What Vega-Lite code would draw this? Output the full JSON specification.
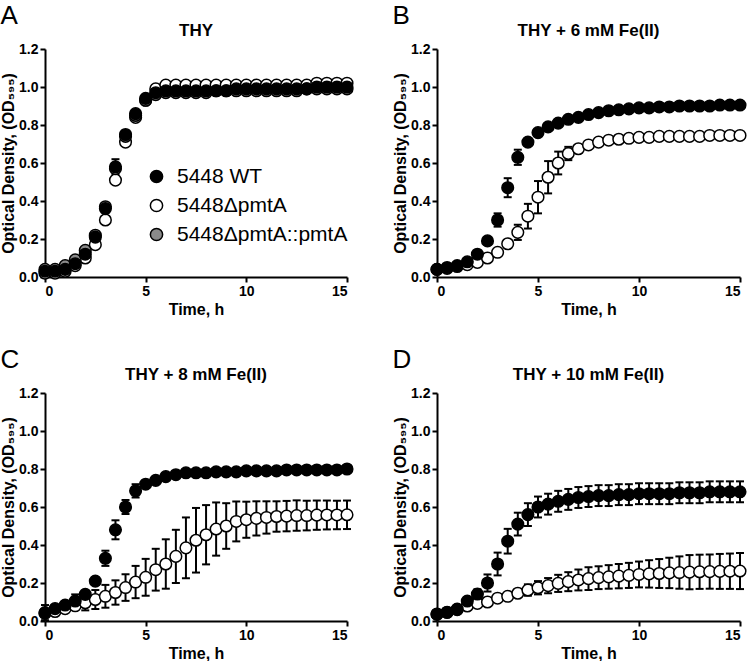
{
"$schema":"https://vega.github.io/schema/vega-lite/v6.json",
"padding":{"left":0,"top":3,"right":0,"bottom":0},
"config":{
 "view":{"stroke":null},
 "font":"Liberation Sans",
 "axis":{"grid":false,"domainColor":"black","domainWidth":2,"tickColor":"black","tickWidth":2,"tickSize":5,"labelFont":"Liberation Sans","labelFontWeight":"bold","labelFontSize":14,"labelColor":"black","titleFont":"Liberation Sans","titleFontWeight":"bold","titleFontSize":16,"titleColor":"black","labelPadding":2},
 "axisX":{"titlePadding":3},
 "axisY":{"titlePadding":2},
 "title":{"font":"Liberation Sans","fontSize":17,"fontWeight":"bold","color":"black"}
},
"datasets":{
"A":[
{"t":0,"s":"D","y":0.02,"e":0.01},{"t":0.5,"s":"D","y":0.02,"e":0.01},{"t":1,"s":"D","y":0.03,"e":0.01},{"t":1.5,"s":"D","y":0.06,"e":0.01},{"t":2,"s":"D","y":0.10,"e":0.01},{"t":2.5,"s":"D","y":0.17,"e":0.01},{"t":3,"s":"D","y":0.30,"e":0.01},{"t":3.5,"s":"D","y":0.51,"e":0.01},{"t":4,"s":"D","y":0.71,"e":0.01},{"t":4.5,"s":"D","y":0.84,"e":0.01},{"t":5,"s":"D","y":0.93,"e":0.01},{"t":5.5,"s":"D","y":0.99,"e":0.01},{"t":6,"s":"D","y":1.01,"e":0.01},{"t":6.5,"s":"D","y":1.01,"e":0.01},{"t":7,"s":"D","y":1.01,"e":0.01},{"t":7.5,"s":"D","y":1.01,"e":0.01},{"t":8,"s":"D","y":1.01,"e":0.01},{"t":8.5,"s":"D","y":1.01,"e":0.01},{"t":9,"s":"D","y":1.01,"e":0.01},{"t":9.5,"s":"D","y":1.01,"e":0.01},{"t":10,"s":"D","y":1.01,"e":0.01},{"t":10.5,"s":"D","y":1.01,"e":0.01},{"t":11,"s":"D","y":1.01,"e":0.01},{"t":11.5,"s":"D","y":1.01,"e":0.01},{"t":12,"s":"D","y":1.01,"e":0.01},{"t":12.5,"s":"D","y":1.01,"e":0.01},{"t":13,"s":"D","y":1.01,"e":0.01},{"t":13.5,"s":"D","y":1.02,"e":0.01},{"t":14,"s":"D","y":1.02,"e":0.01},{"t":14.5,"s":"D","y":1.02,"e":0.01},{"t":15,"s":"D","y":1.02,"e":0.01},
{"t":0,"s":"C","y":0.04,"e":0.01},{"t":0.5,"s":"C","y":0.04,"e":0.01},{"t":1,"s":"C","y":0.06,"e":0.01},{"t":1.5,"s":"C","y":0.09,"e":0.01},{"t":2,"s":"C","y":0.14,"e":0.01},{"t":2.5,"s":"C","y":0.22,"e":0.01},{"t":3,"s":"C","y":0.37,"e":0.01},{"t":3.5,"s":"C","y":0.57,"e":0.01},{"t":4,"s":"C","y":0.74,"e":0.01},{"t":4.5,"s":"C","y":0.85,"e":0.01},{"t":5,"s":"C","y":0.93,"e":0.01},{"t":5.5,"s":"C","y":0.96,"e":0.01},{"t":6,"s":"C","y":0.97,"e":0.01},{"t":6.5,"s":"C","y":0.97,"e":0.01},{"t":7,"s":"C","y":0.97,"e":0.01},{"t":7.5,"s":"C","y":0.97,"e":0.01},{"t":8,"s":"C","y":0.97,"e":0.01},{"t":8.5,"s":"C","y":0.98,"e":0.01},{"t":9,"s":"C","y":0.98,"e":0.01},{"t":9.5,"s":"C","y":0.98,"e":0.01},{"t":10,"s":"C","y":0.98,"e":0.01},{"t":10.5,"s":"C","y":0.98,"e":0.01},{"t":11,"s":"C","y":0.98,"e":0.01},{"t":11.5,"s":"C","y":0.98,"e":0.01},{"t":12,"s":"C","y":0.98,"e":0.01},{"t":12.5,"s":"C","y":0.98,"e":0.01},{"t":13,"s":"C","y":0.99,"e":0.01},{"t":13.5,"s":"C","y":0.99,"e":0.01},{"t":14,"s":"C","y":0.99,"e":0.01},{"t":14.5,"s":"C","y":0.99,"e":0.01},{"t":15,"s":"C","y":0.99,"e":0.01},
{"t":0,"s":"WT","y":0.03,"e":0.01},{"t":0.5,"s":"WT","y":0.03,"e":0.01},{"t":1,"s":"WT","y":0.04,"e":0.01},{"t":1.5,"s":"WT","y":0.07,"e":0.01},{"t":2,"s":"WT","y":0.12,"e":0.01},{"t":2.5,"s":"WT","y":0.21,"e":0.01},{"t":3,"s":"WT","y":0.36,"e":0.02},{"t":3.5,"s":"WT","y":0.58,"e":0.04},{"t":4,"s":"WT","y":0.75,"e":0.02},{"t":4.5,"s":"WT","y":0.86,"e":0.01},{"t":5,"s":"WT","y":0.94,"e":0.01},{"t":5.5,"s":"WT","y":0.97,"e":0.01},{"t":6,"s":"WT","y":0.98,"e":0.01},{"t":6.5,"s":"WT","y":0.98,"e":0.01},{"t":7,"s":"WT","y":0.98,"e":0.01},{"t":7.5,"s":"WT","y":0.98,"e":0.01},{"t":8,"s":"WT","y":0.98,"e":0.01},{"t":8.5,"s":"WT","y":0.98,"e":0.01},{"t":9,"s":"WT","y":0.98,"e":0.01},{"t":9.5,"s":"WT","y":0.99,"e":0.01},{"t":10,"s":"WT","y":0.99,"e":0.01},{"t":10.5,"s":"WT","y":0.99,"e":0.01},{"t":11,"s":"WT","y":0.99,"e":0.01},{"t":11.5,"s":"WT","y":0.99,"e":0.01},{"t":12,"s":"WT","y":0.99,"e":0.01},{"t":12.5,"s":"WT","y":0.99,"e":0.01},{"t":13,"s":"WT","y":0.99,"e":0.01},{"t":13.5,"s":"WT","y":1.0,"e":0.01},{"t":14,"s":"WT","y":1.0,"e":0.01},{"t":14.5,"s":"WT","y":1.0,"e":0.01},{"t":15,"s":"WT","y":1.0,"e":0.01}
],
"B":[
{"t":0,"s":"D","y":0.04,"e":0.01},{"t":0.5,"s":"D","y":0.045,"e":0.01},{"t":1,"s":"D","y":0.055,"e":0.01},{"t":1.5,"s":"D","y":0.065,"e":0.01},{"t":2,"s":"D","y":0.077,"e":0.01},{"t":2.5,"s":"D","y":0.10,"e":0.01},{"t":3,"s":"D","y":0.13,"e":0.015},{"t":3.5,"s":"D","y":0.175,"e":0.015},{"t":4,"s":"D","y":0.235,"e":0.04},{"t":4.5,"s":"D","y":0.32,"e":0.065},{"t":5,"s":"D","y":0.42,"e":0.085},{"t":5.5,"s":"D","y":0.525,"e":0.085},{"t":6,"s":"D","y":0.60,"e":0.06},{"t":6.5,"s":"D","y":0.65,"e":0.035},{"t":7,"s":"D","y":0.675,"e":0.02},{"t":7.5,"s":"D","y":0.695,"e":0.015},{"t":8,"s":"D","y":0.71,"e":0.01},{"t":8.5,"s":"D","y":0.72,"e":0.01},{"t":9,"s":"D","y":0.725,"e":0.01},{"t":9.5,"s":"D","y":0.73,"e":0.01},{"t":10,"s":"D","y":0.735,"e":0.01},{"t":10.5,"s":"D","y":0.735,"e":0.01},{"t":11,"s":"D","y":0.74,"e":0.01},{"t":11.5,"s":"D","y":0.74,"e":0.01},{"t":12,"s":"D","y":0.74,"e":0.01},{"t":12.5,"s":"D","y":0.74,"e":0.01},{"t":13,"s":"D","y":0.74,"e":0.01},{"t":13.5,"s":"D","y":0.745,"e":0.01},{"t":14,"s":"D","y":0.745,"e":0.01},{"t":14.5,"s":"D","y":0.745,"e":0.01},{"t":15,"s":"D","y":0.745,"e":0.01},
{"t":0,"s":"WT","y":0.04,"e":0.01},{"t":0.5,"s":"WT","y":0.05,"e":0.01},{"t":1,"s":"WT","y":0.06,"e":0.01},{"t":1.5,"s":"WT","y":0.08,"e":0.01},{"t":2,"s":"WT","y":0.12,"e":0.015},{"t":2.5,"s":"WT","y":0.19,"e":0.02},{"t":3,"s":"WT","y":0.30,"e":0.035},{"t":3.5,"s":"WT","y":0.47,"e":0.05},{"t":4,"s":"WT","y":0.63,"e":0.04},{"t":4.5,"s":"WT","y":0.71,"e":0.02},{"t":5,"s":"WT","y":0.76,"e":0.015},{"t":5.5,"s":"WT","y":0.79,"e":0.015},{"t":6,"s":"WT","y":0.81,"e":0.015},{"t":6.5,"s":"WT","y":0.83,"e":0.01},{"t":7,"s":"WT","y":0.84,"e":0.01},{"t":7.5,"s":"WT","y":0.855,"e":0.01},{"t":8,"s":"WT","y":0.865,"e":0.01},{"t":8.5,"s":"WT","y":0.875,"e":0.01},{"t":9,"s":"WT","y":0.88,"e":0.01},{"t":9.5,"s":"WT","y":0.885,"e":0.01},{"t":10,"s":"WT","y":0.89,"e":0.01},{"t":10.5,"s":"WT","y":0.89,"e":0.01},{"t":11,"s":"WT","y":0.895,"e":0.01},{"t":11.5,"s":"WT","y":0.895,"e":0.01},{"t":12,"s":"WT","y":0.9,"e":0.01},{"t":12.5,"s":"WT","y":0.9,"e":0.01},{"t":13,"s":"WT","y":0.9,"e":0.01},{"t":13.5,"s":"WT","y":0.9,"e":0.01},{"t":14,"s":"WT","y":0.905,"e":0.01},{"t":14.5,"s":"WT","y":0.905,"e":0.01},{"t":15,"s":"WT","y":0.905,"e":0.01}
],
"C":[
{"t":0,"s":"D","y":0.04,"e":0.01},{"t":0.5,"s":"D","y":0.05,"e":0.01},{"t":1,"s":"D","y":0.065,"e":0.01},{"t":1.5,"s":"D","y":0.08,"e":0.015},{"t":2,"s":"D","y":0.096,"e":0.04},{"t":2.5,"s":"D","y":0.113,"e":0.05},{"t":3,"s":"D","y":0.13,"e":0.06},{"t":3.5,"s":"D","y":0.15,"e":0.064},{"t":4,"s":"D","y":0.176,"e":0.07},{"t":4.5,"s":"D","y":0.205,"e":0.085},{"t":5,"s":"D","y":0.23,"e":0.097},{"t":5.5,"s":"D","y":0.27,"e":0.11},{"t":6,"s":"D","y":0.30,"e":0.13},{"t":6.5,"s":"D","y":0.34,"e":0.14},{"t":7,"s":"D","y":0.385,"e":0.16},{"t":7.5,"s":"D","y":0.425,"e":0.17},{"t":8,"s":"D","y":0.454,"e":0.156},{"t":8.5,"s":"D","y":0.484,"e":0.14},{"t":9,"s":"D","y":0.50,"e":0.12},{"t":9.5,"s":"D","y":0.524,"e":0.105},{"t":10,"s":"D","y":0.533,"e":0.095},{"t":10.5,"s":"D","y":0.54,"e":0.09},{"t":11,"s":"D","y":0.545,"e":0.085},{"t":11.5,"s":"D","y":0.55,"e":0.08},{"t":12,"s":"D","y":0.552,"e":0.08},{"t":12.5,"s":"D","y":0.555,"e":0.08},{"t":13,"s":"D","y":0.555,"e":0.078},{"t":13.5,"s":"D","y":0.557,"e":0.077},{"t":14,"s":"D","y":0.558,"e":0.076},{"t":14.5,"s":"D","y":0.558,"e":0.075},{"t":15,"s":"D","y":0.559,"e":0.075},
{"t":0,"s":"WT","y":0.044,"e":0.04},{"t":0.5,"s":"WT","y":0.065,"e":0.02},{"t":1,"s":"WT","y":0.084,"e":0.02},{"t":1.5,"s":"WT","y":0.105,"e":0.035},{"t":2,"s":"WT","y":0.14,"e":0.02},{"t":2.5,"s":"WT","y":0.21,"e":0.02},{"t":3,"s":"WT","y":0.33,"e":0.04},{"t":3.5,"s":"WT","y":0.48,"e":0.05},{"t":4,"s":"WT","y":0.60,"e":0.037},{"t":4.5,"s":"WT","y":0.685,"e":0.035},{"t":5,"s":"WT","y":0.72,"e":0.015},{"t":5.5,"s":"WT","y":0.74,"e":0.01},{"t":6,"s":"WT","y":0.76,"e":0.01},{"t":6.5,"s":"WT","y":0.77,"e":0.01},{"t":7,"s":"WT","y":0.78,"e":0.01},{"t":7.5,"s":"WT","y":0.78,"e":0.01},{"t":8,"s":"WT","y":0.78,"e":0.01},{"t":8.5,"s":"WT","y":0.785,"e":0.01},{"t":9,"s":"WT","y":0.785,"e":0.01},{"t":9.5,"s":"WT","y":0.785,"e":0.01},{"t":10,"s":"WT","y":0.79,"e":0.01},{"t":10.5,"s":"WT","y":0.79,"e":0.01},{"t":11,"s":"WT","y":0.79,"e":0.01},{"t":11.5,"s":"WT","y":0.79,"e":0.01},{"t":12,"s":"WT","y":0.795,"e":0.01},{"t":12.5,"s":"WT","y":0.795,"e":0.01},{"t":13,"s":"WT","y":0.795,"e":0.01},{"t":13.5,"s":"WT","y":0.795,"e":0.01},{"t":14,"s":"WT","y":0.795,"e":0.01},{"t":14.5,"s":"WT","y":0.795,"e":0.01},{"t":15,"s":"WT","y":0.80,"e":0.01}
],
"D":[
{"t":0,"s":"D","y":0.035,"e":0.01},{"t":0.5,"s":"D","y":0.045,"e":0.01},{"t":1,"s":"D","y":0.06,"e":0.01},{"t":1.5,"s":"D","y":0.079,"e":0.01},{"t":2,"s":"D","y":0.093,"e":0.01},{"t":2.5,"s":"D","y":0.10,"e":0.01},{"t":3,"s":"D","y":0.12,"e":0.01},{"t":3.5,"s":"D","y":0.13,"e":0.015},{"t":4,"s":"D","y":0.146,"e":0.02},{"t":4.5,"s":"D","y":0.163,"e":0.03},{"t":5,"s":"D","y":0.175,"e":0.035},{"t":5.5,"s":"D","y":0.186,"e":0.04},{"t":6,"s":"D","y":0.198,"e":0.045},{"t":6.5,"s":"D","y":0.207,"e":0.05},{"t":7,"s":"D","y":0.216,"e":0.055},{"t":7.5,"s":"D","y":0.223,"e":0.06},{"t":8,"s":"D","y":0.228,"e":0.06},{"t":8.5,"s":"D","y":0.232,"e":0.062},{"t":9,"s":"D","y":0.236,"e":0.064},{"t":9.5,"s":"D","y":0.24,"e":0.066},{"t":10,"s":"D","y":0.245,"e":0.068},{"t":10.5,"s":"D","y":0.248,"e":0.072},{"t":11,"s":"D","y":0.25,"e":0.076},{"t":11.5,"s":"D","y":0.253,"e":0.08},{"t":12,"s":"D","y":0.255,"e":0.085},{"t":12.5,"s":"D","y":0.257,"e":0.09},{"t":13,"s":"D","y":0.259,"e":0.09},{"t":13.5,"s":"D","y":0.26,"e":0.09},{"t":14,"s":"D","y":0.261,"e":0.092},{"t":14.5,"s":"D","y":0.262,"e":0.093},{"t":15,"s":"D","y":0.263,"e":0.095},
{"t":0,"s":"WT","y":0.037,"e":0.015},{"t":0.5,"s":"WT","y":0.046,"e":0.015},{"t":1,"s":"WT","y":0.063,"e":0.02},{"t":1.5,"s":"WT","y":0.105,"e":0.02},{"t":2,"s":"WT","y":0.142,"e":0.025},{"t":2.5,"s":"WT","y":0.20,"e":0.045},{"t":3,"s":"WT","y":0.30,"e":0.06},{"t":3.5,"s":"WT","y":0.42,"e":0.065},{"t":4,"s":"WT","y":0.51,"e":0.06},{"t":4.5,"s":"WT","y":0.56,"e":0.06},{"t":5,"s":"WT","y":0.60,"e":0.055},{"t":5.5,"s":"WT","y":0.615,"e":0.055},{"t":6,"s":"WT","y":0.63,"e":0.055},{"t":6.5,"s":"WT","y":0.64,"e":0.055},{"t":7,"s":"WT","y":0.65,"e":0.055},{"t":7.5,"s":"WT","y":0.655,"e":0.055},{"t":8,"s":"WT","y":0.66,"e":0.055},{"t":8.5,"s":"WT","y":0.66,"e":0.055},{"t":9,"s":"WT","y":0.665,"e":0.055},{"t":9.5,"s":"WT","y":0.665,"e":0.055},{"t":10,"s":"WT","y":0.67,"e":0.055},{"t":10.5,"s":"WT","y":0.67,"e":0.055},{"t":11,"s":"WT","y":0.67,"e":0.055},{"t":11.5,"s":"WT","y":0.67,"e":0.055},{"t":12,"s":"WT","y":0.675,"e":0.055},{"t":12.5,"s":"WT","y":0.675,"e":0.055},{"t":13,"s":"WT","y":0.675,"e":0.055},{"t":13.5,"s":"WT","y":0.68,"e":0.055},{"t":14,"s":"WT","y":0.68,"e":0.055},{"t":14.5,"s":"WT","y":0.68,"e":0.055},{"t":15,"s":"WT","y":0.68,"e":0.055}
]
},
"spacing":30,
"vconcat":[
{"spacing":36,"hconcat":[
 {"title":{"text":"A","anchor":"start","frame":"bounds","fontSize":26,"fontWeight":"normal","offset":-7},
  "vconcat":[{
   "title":{"text":"THY","offset":2},
   "width":302,"height":228,
   "data":{"name":"A"},
   "encoding":{
    "x":{"field":"t","type":"quantitative","scale":{"domain":[0,15],"nice":false},"axis":{"title":"Time, h","values":[0,5,10,15]}},
    "y":{"field":"y","type":"quantitative","scale":{"domain":[0,1.2],"nice":false},"axis":{"title":"Optical Density, (OD₅₉₅)","values":[0,0.2,0.4,0.6,0.8,1.0,1.2],"format":".1f"}}
   },
   "layer":[
    {"mark":{"type":"errorbar","color":"black","opacity":1,"ticks":{"size":8,"thickness":2,"color":"black","opacity":1},"rule":{"strokeWidth":2,"color":"black","opacity":1}},"encoding":{"yError":{"field":"e"}}},
    {"mark":{"type":"point","filled":true,"size":135,"stroke":"black","strokeWidth":1.5,"opacity":1},
     "encoding":{"fill":{"field":"s","type":"nominal","scale":{"domain":["WT","D","C"],"range":["black","white","#8a8a8a"]},
      "legend":{"title":null,"orient":"none","legendX":101,"legendY":117,"padding":0,"labelFont":"Liberation Sans","labelFontSize":21,"labelFontWeight":"normal","labelColor":"black","labelLimit":0,"symbolType":"circle","symbolSize":150,"symbolStrokeColor":"black","symbolStrokeWidth":1.5,"rowPadding":7,"labelOffset":10,
       "labelExpr":"datum.label == 'WT' ? '5448 WT' : datum.label == 'D' ? '5448ΔpmtA' : '5448ΔpmtA::pmtA'"}}}}
   ]
  }]
 },
 {"title":{"text":"B","anchor":"start","frame":"bounds","fontSize":26,"fontWeight":"normal","offset":-7},
  "vconcat":[{
   "title":{"text":"THY + 6 mM Fe(II)","offset":2},
   "width":303,"height":228,
   "data":{"name":"B"},
   "encoding":{
    "x":{"field":"t","type":"quantitative","scale":{"domain":[0,15],"nice":false},"axis":{"title":"Time, h","values":[0,5,10,15]}},
    "y":{"field":"y","type":"quantitative","scale":{"domain":[0,1.2],"nice":false},"axis":{"title":"Optical Density, (OD₅₉₅)","values":[0,0.2,0.4,0.6,0.8,1.0,1.2],"format":".1f"}}
   },
   "layer":[
    {"mark":{"type":"errorbar","color":"black","opacity":1,"ticks":{"size":8,"thickness":2,"color":"black","opacity":1},"rule":{"strokeWidth":2,"color":"black","opacity":1}},"encoding":{"yError":{"field":"e"}}},
    {"mark":{"type":"point","filled":true,"size":135,"stroke":"black","strokeWidth":1.5,"opacity":1},
     "encoding":{"fill":{"field":"s","type":"nominal","scale":{"domain":["WT","D","C"],"range":["black","white","#8a8a8a"]},"legend":null}}}
   ]
  }]
 }
]},
{"spacing":36,"hconcat":[
 {"title":{"text":"C","anchor":"start","frame":"bounds","fontSize":26,"fontWeight":"normal","offset":-7},
  "vconcat":[{
   "title":{"text":"THY + 8 mM Fe(II)","offset":2},
   "width":302,"height":228,
   "data":{"name":"C"},
   "encoding":{
    "x":{"field":"t","type":"quantitative","scale":{"domain":[0,15],"nice":false},"axis":{"title":"Time, h","values":[0,5,10,15]}},
    "y":{"field":"y","type":"quantitative","scale":{"domain":[0,1.2],"nice":false},"axis":{"title":"Optical Density, (OD₅₉₅)","values":[0,0.2,0.4,0.6,0.8,1.0,1.2],"format":".1f"}}
   },
   "layer":[
    {"mark":{"type":"errorbar","color":"black","opacity":1,"ticks":{"size":8,"thickness":2,"color":"black","opacity":1},"rule":{"strokeWidth":2,"color":"black","opacity":1}},"encoding":{"yError":{"field":"e"}}},
    {"mark":{"type":"point","filled":true,"size":135,"stroke":"black","strokeWidth":1.5,"opacity":1},
     "encoding":{"fill":{"field":"s","type":"nominal","scale":{"domain":["WT","D","C"],"range":["black","white","#8a8a8a"]},"legend":null}}}
   ]
  }]
 },
 {"title":{"text":"D","anchor":"start","frame":"bounds","fontSize":26,"fontWeight":"normal","offset":-7},
  "vconcat":[{
   "title":{"text":"THY + 10 mM Fe(II)","offset":2},
   "width":303,"height":228,
   "data":{"name":"D"},
   "encoding":{
    "x":{"field":"t","type":"quantitative","scale":{"domain":[0,15],"nice":false},"axis":{"title":"Time, h","values":[0,5,10,15]}},
    "y":{"field":"y","type":"quantitative","scale":{"domain":[0,1.2],"nice":false},"axis":{"title":"Optical Density, (OD₅₉₅)","values":[0,0.2,0.4,0.6,0.8,1.0,1.2],"format":".1f"}}
   },
   "layer":[
    {"mark":{"type":"errorbar","color":"black","opacity":1,"ticks":{"size":8,"thickness":2,"color":"black","opacity":1},"rule":{"strokeWidth":2,"color":"black","opacity":1}},"encoding":{"yError":{"field":"e"}}},
    {"mark":{"type":"point","filled":true,"size":135,"stroke":"black","strokeWidth":1.5,"opacity":1},
     "encoding":{"fill":{"field":"s","type":"nominal","scale":{"domain":["WT","D","C"],"range":["black","white","#8a8a8a"]},"legend":null}}}
   ]
  }]
 }
]}
]
}
